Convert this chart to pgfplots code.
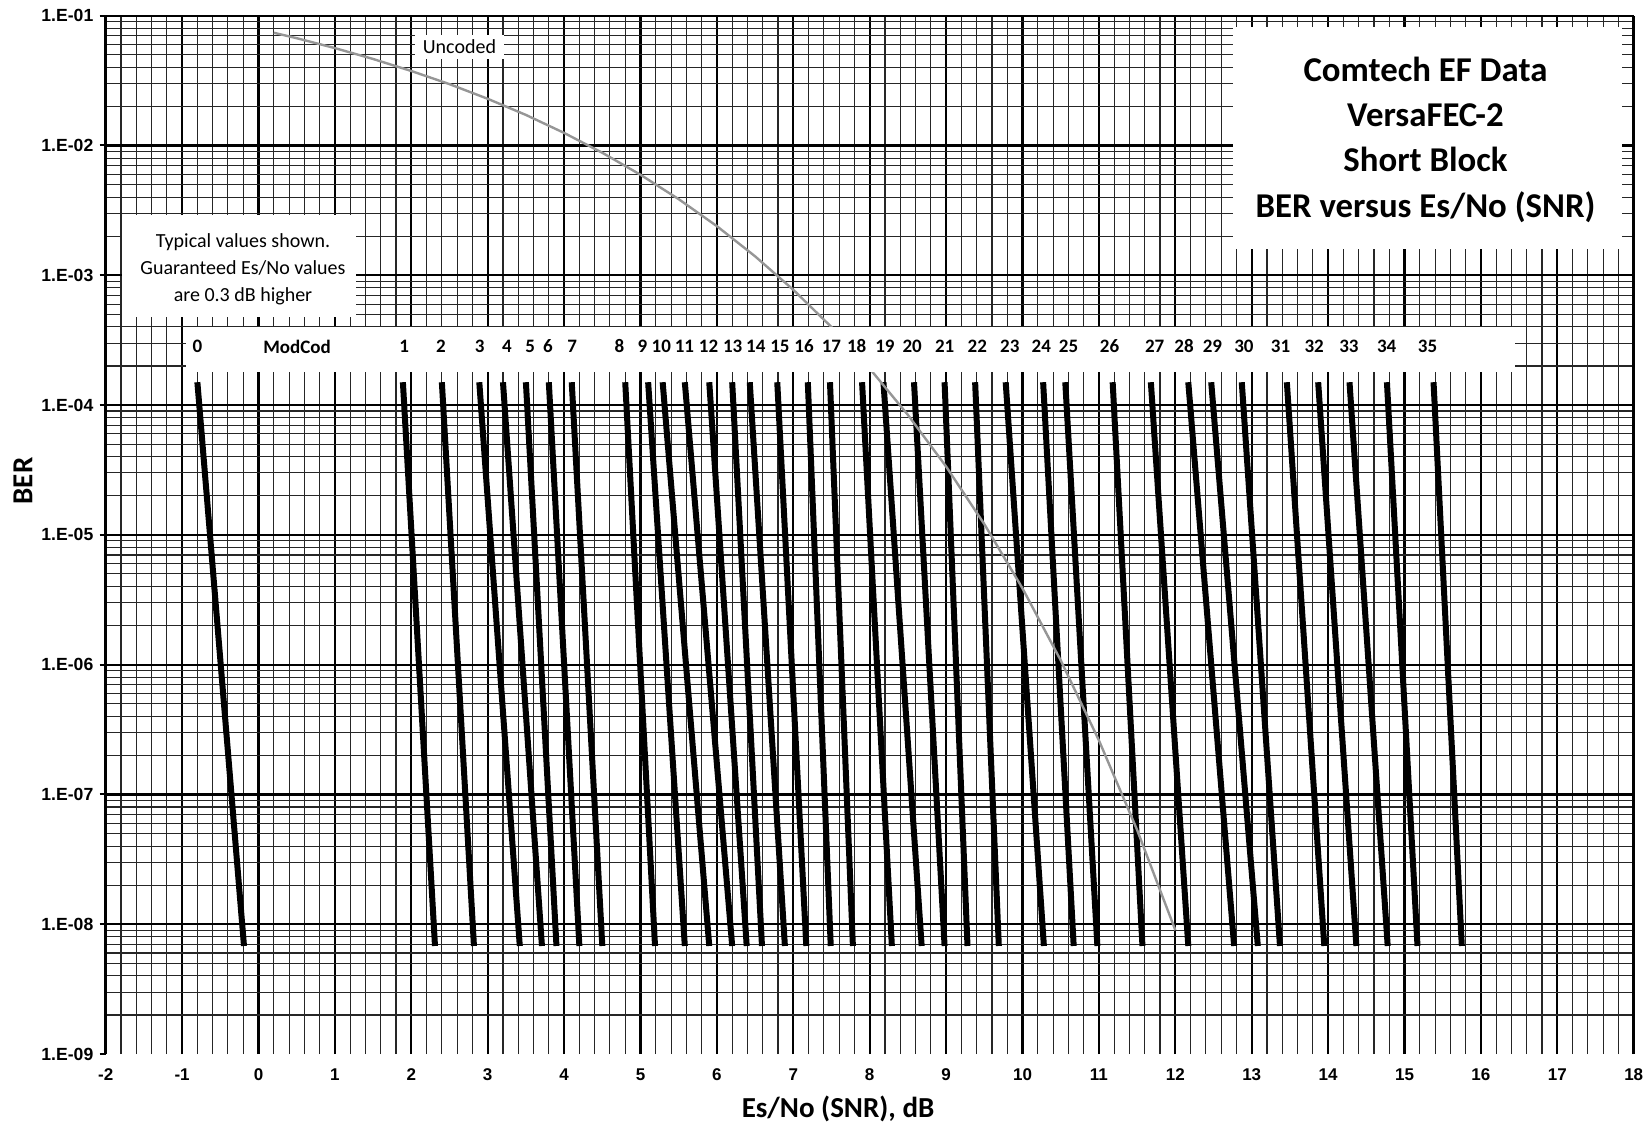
\documentclass[border=0pt]{standalone}
\usepackage{fontspec}
\setmainfont{Carlito}
\newfontfamily\arialfont{Liberation Sans}
\usepackage{pgfplots}
\pgfplotsset{compat=1.18}
\definecolor{uncgray}{RGB}{150,150,150}

\pgfplotstableread{
x ber
0.2 0.0739
0.5 0.0671
1 0.0563
1.5 0.0464
2 0.0375
2.5 0.0297
3 0.0229
3.5 0.0172
4 0.0125
4.5 0.00879
5 0.00595
5.5 0.00386
6 0.00239
6.5 0.00140
7 7.73e-4
7.5 3.99e-4
8 1.91e-4
8.5 8.40e-5
9 3.36e-5
9.5 1.21e-5
10 3.87e-6
10.5 1.08e-6
11 2.61e-7
11.5 5.33e-8
12 9.01e-9
}\uncoded

\pgfplotstableread{
x y lab
-0.80 2.83e-4 0
0.505 2.83e-4 ModCod
1.906 2.83e-4 1
2.387 2.83e-4 2
2.895 2.83e-4 3
3.253 2.83e-4 4
3.555 2.83e-4 5
3.789 2.83e-4 6
4.105 2.83e-4 7
4.723 2.83e-4 8
5.025 2.83e-4 9
5.272 2.83e-4 10
5.575 2.83e-4 11
5.890 2.83e-4 12
6.207 2.83e-4 13
6.509 2.83e-4 14
6.825 2.83e-4 15
7.141 2.83e-4 16
7.499 2.83e-4 17
7.829 2.83e-4 18
8.199 2.83e-4 19
8.556 2.83e-4 20
8.982 2.83e-4 21
9.408 2.83e-4 22
9.834 2.83e-4 23
10.246 2.83e-4 24
10.603 2.83e-4 25
11.139 2.83e-4 26
11.730 2.83e-4 27
12.115 2.83e-4 28
12.486 2.83e-4 29
12.898 2.83e-4 30
13.378 2.83e-4 31
13.818 2.83e-4 32
14.272 2.83e-4 33
14.767 2.83e-4 34
15.302 2.83e-4 35
}\labels

\begin{document}
\begin{tikzpicture}
\begin{axis}[
  name=ax,
  scale only axis,
  width=764bp, height=519.15bp,
  xmin=-2, xmax=18,
  ymode=log, ymin=1e-9, ymax=1e-1,
  xtick={-2,-1,0,1,2,3,4,5,6,7,8,9,10,11,12,13,14,15,16,17,18},
  xticklabels={-2,-1,0,1,2,3,4,5,6,7,8,9,10,11,12,13,14,15,16,17,18},
  minor x tick num=4,
  ytick={1e-8,1e-7,1e-6,1e-5,1e-4,1e-3,1e-2,1e-1},
  yticklabels={1.E-08,1.E-07,1.E-06,1.E-05,1.E-04,1.E-03,1.E-02,1.E-01},
  extra y ticks={1e-9},
  extra y tick labels={1.E-09},
  extra y tick style={grid=none},
  minor ytick={2e-9,3e-9,4e-9,5e-9,6e-9,7e-9,8e-9,9e-9,
               2e-8,3e-8,4e-8,5e-8,6e-8,7e-8,8e-8,9e-8,
               2e-7,3e-7,4e-7,5e-7,6e-7,7e-7,8e-7,9e-7,
               2e-6,3e-6,4e-6,5e-6,6e-6,7e-6,8e-6,9e-6,
               2e-5,3e-5,4e-5,5e-5,6e-5,7e-5,8e-5,9e-5,
               2e-4,3e-4,4e-4,5e-4,6e-4,7e-4,8e-4,9e-4,
               2e-3,3e-3,4e-3,5e-3,6e-3,7e-3,8e-3,9e-3,
               2e-2,3e-2,4e-2,5e-2,6e-2,7e-2,8e-2,9e-2},
  grid=both,
  major grid style={black, line width=1.1bp},
  minor grid style={black!85, line width=0.55bp},
  separate axis lines,
  x axis line style={draw=none},
  y axis line style={black, line width=1.3bp},
  tick align=outside,
  ytick pos=left,
  xtick pos=bottom,
  xtick style={draw=none},
  ytick style={black, line width=1bp},
  major tick length=3bp,
  minor tick length=0pt,
  yticklabel style={font=\arialfont\bfseries\fontsize{8.8bp}{10bp}\selectfont, inner sep=0pt, anchor=east, xshift=-3bp},
  xticklabel style={font=\arialfont\bfseries\fontsize{8.5bp}{10bp}\selectfont, inner sep=0pt, anchor=north, yshift=-4bp},
]
% ModCod curves
\addplot[black, line width=3bp] coordinates {(-0.80,1.5e-4) (-0.19,6.8e-9)};
\addplot[black, line width=3bp] coordinates {(1.89,1.5e-4) (2.31,6.8e-9)};
\addplot[black, line width=3bp] coordinates {(2.40,1.5e-4) (2.82,6.8e-9)};
\addplot[black, line width=3bp] coordinates {(2.89,1.5e-4) (3.42,6.8e-9)};
\addplot[black, line width=3bp] coordinates {(3.20,1.5e-4) (3.71,6.8e-9)};
\addplot[black, line width=3bp] coordinates {(3.50,1.5e-4) (3.90,6.8e-9)};
\addplot[black, line width=3bp] coordinates {(3.80,1.5e-4) (4.20,6.8e-9)};
\addplot[black, line width=3bp] coordinates {(4.10,1.5e-4) (4.50,6.8e-9)};
\addplot[black, line width=3bp] coordinates {(4.80,1.5e-4) (5.19,6.8e-9)};
\addplot[black, line width=3bp] coordinates {(5.10,1.5e-4) (5.58,6.8e-9)};
\addplot[black, line width=3bp] coordinates {(5.29,1.5e-4) (5.90,6.8e-9)};
\addplot[black, line width=3bp] coordinates {(5.58,1.5e-4) (6.20,6.8e-9)};
\addplot[black, line width=3bp] coordinates {(5.90,1.5e-4) (6.39,6.8e-9)};
\addplot[black, line width=3bp] coordinates {(6.20,1.5e-4) (6.59,6.8e-9)};
\addplot[black, line width=3bp] coordinates {(6.43,1.5e-4) (6.89,6.8e-9)};
\addplot[black, line width=3bp] coordinates {(6.79,1.5e-4) (7.17,6.8e-9)};
\addplot[black, line width=3bp] coordinates {(7.19,1.5e-4) (7.49,6.8e-9)};
\addplot[black, line width=3bp] coordinates {(7.48,1.5e-4) (7.78,6.8e-9)};
\addplot[black, line width=3bp] coordinates {(7.90,1.5e-4) (8.29,6.8e-9)};
\addplot[black, line width=3bp] coordinates {(8.18,1.5e-4) (8.68,6.8e-9)};
\addplot[black, line width=3bp] coordinates {(8.58,1.5e-4) (8.98,6.8e-9)};
\addplot[black, line width=3bp] coordinates {(8.98,1.5e-4) (9.28,6.8e-9)};
\addplot[black, line width=3bp] coordinates {(9.38,1.5e-4) (9.69,6.8e-9)};
\addplot[black, line width=3bp] coordinates {(9.78,1.5e-4) (10.28,6.8e-9)};
\addplot[black, line width=3bp] coordinates {(10.27,1.5e-4) (10.67,6.8e-9)};
\addplot[black, line width=3bp] coordinates {(10.56,1.5e-4) (10.98,6.8e-9)};
\addplot[black, line width=3bp] coordinates {(11.18,1.5e-4) (11.57,6.8e-9)};
\addplot[black, line width=3bp] coordinates {(11.68,1.5e-4) (12.17,6.8e-9)};
\addplot[black, line width=3bp] coordinates {(12.17,1.5e-4) (12.77,6.8e-9)};
\addplot[black, line width=3bp] coordinates {(12.47,1.5e-4) (13.08,6.8e-9)};
\addplot[black, line width=3bp] coordinates {(12.87,1.5e-4) (13.37,6.8e-9)};
\addplot[black, line width=3bp] coordinates {(13.46,1.5e-4) (13.95,6.8e-9)};
\addplot[black, line width=3bp] coordinates {(13.87,1.5e-4) (14.37,6.8e-9)};
\addplot[black, line width=3bp] coordinates {(14.28,1.5e-4) (14.78,6.8e-9)};
\addplot[black, line width=3bp] coordinates {(14.77,1.5e-4) (15.17,6.8e-9)};
\addplot[black, line width=3bp] coordinates {(15.38,1.5e-4) (15.75,6.8e-9)};
% Uncoded
\addplot[uncgray, line width=1.2bp] table[x=x, y=ber] {\uncoded};
% white boxes
\fill[white] (axis cs:-0.95,3.99e-4) rectangle (axis cs:16.45,1.795e-4);
\fill[white] (axis cs:-1.787,2.91e-3) rectangle (axis cs:1.276,4.76e-4);
\fill[white] (axis cs:12.755,8.18e-2) rectangle (axis cs:17.85,1.59e-3);
\fill[white] (axis cs:2.048,0.0710) rectangle (axis cs:3.213,0.0463);
% texts
\node[font=\fontsize{10bp}{12bp}\selectfont] at (axis cs:2.63,0.0575) {Uncoded};
\node[align=center, font=\fontsize{10bp}{13.35bp}\selectfont] at (axis cs:-0.203,1.11e-3) {Typical values shown.\\Guaranteed Es/No values\\are 0.3 dB higher};
\node[align=center, font=\bfseries\fontsize{17.4bp}{22.7bp}\selectfont] at (axis cs:15.275,1.11e-2) {Comtech EF Data\\VersaFEC-2\\Short Block\\BER versus Es/No (SNR)};
\addplot[only marks, mark=none, nodes near coords, point meta=explicit symbolic,
  every node near coord/.style={anchor=center, inner sep=0pt, font=\bfseries\fontsize{9.5bp}{11bp}\selectfont}]
  table[x=x, y=y, meta=lab] {\labels};
\end{axis}
\node[rotate=90, inner sep=0pt, font=\bfseries\fontsize{14.5bp}{16bp}\selectfont] at ([shift={(-41.35bp,286.5bp)}]ax.south west) {BER};
\node[inner sep=0pt, font=\bfseries\fontsize{14.5bp}{16bp}\selectfont] at ([shift={(366.15bp,-27.5bp)}]ax.south west) {Es/No (SNR), dB};
\path ([shift={(-52.85bp,-34.5bp)}]ax.south west) rectangle ([shift={(6.15bp,7.85bp)}]ax.north east);
\end{tikzpicture}
\end{document}
